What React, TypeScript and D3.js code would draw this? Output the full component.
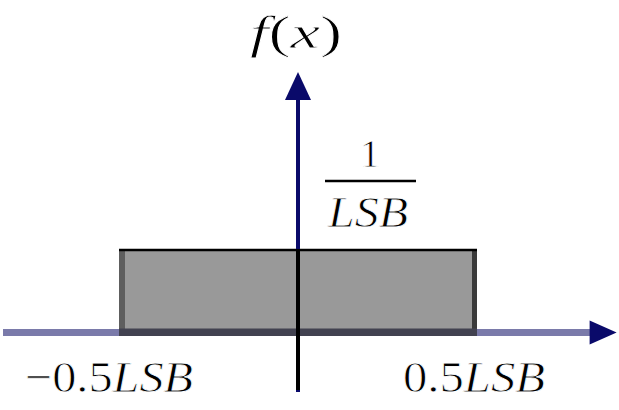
import React from "react";
import * as d3 from "d3";

// uniform quantization error pdf
const pdfEdges = [-0.5, 0.5];
const pdfHeight = 1;
const xExtent = [-0.824, 0.89];
const tickValues = [-0.5, 0.5];
const tickLabels = ["\u22120.5", "0.5"];
const tickUnit = "LSB";

const W = 619;
const H = 410;

const App = () => {
  const x = d3.scaleLinear().domain([-0.5, 0.5]).range([119, 477]);
  const y = d3.scaleLinear().domain([0, 1]).range([332.5, 249]);

  const axisCol = "#7a7aaa";
  const navy = "#0a0a6a";
  const font = "'Liberation Serif', 'DejaVu Serif', serif";
  // thin the glyphs a bit with a white outline painted over the fill
  const thin = { stroke: "#fff", strokeWidth: 0.8 };

  const x0 = x(0);
  const y0 = y(0);
  const left = x(pdfEdges[0]);
  const right = x(pdfEdges[1]);
  const top = y(pdfHeight);

  const tipX = x(xExtent[1]);
  const axisTop = 72;

  return (
    <svg
      width={W}
      height={H}
      style={{ position: "absolute", left: 0, top: 0, background: "#fff" }}
    >
      {/* horizontal axis */}
      <line x1={x(xExtent[0])} x2={tipX - 20} y1={y0} y2={y0} stroke={axisCol} strokeWidth={7} />
      <path
        d={`M${tipX},${y0} L${tipX - 27},${y0 - 12} L${tipX - 27},${y0 + 12} Z`}
        fill={navy}
      />

      {/* pdf box */}
      <rect x={left} y={top} width={right - left} height={y0 + 3.5 - top} fill="#999999" />
      <rect x={left} y={top} width={6} height={y0 + 3.5 - top} fill="#5e5e5e" />
      <rect x={right - 5} y={top} width={5} height={y0 + 3.5 - top} fill="#3a3a3a" />
      <rect x={left} y={y0 - 4} width={right - left} height={7.5} fill="#424250" />
      <line x1={left} x2={right} y1={top + 1} y2={top + 1} stroke="#000" strokeWidth={2.5} />

      {/* vertical axis */}
      <line x1={x0} x2={x0} y1={392} y2={axisTop + 20} stroke={navy} strokeWidth={4} />
      <line x1={x0} x2={x0} y1={top} y2={390} stroke="#000" strokeWidth={4} />
      <path
        d={`M${x0},${axisTop} L${x0 - 13},${axisTop + 28} L${x0 + 13},${axisTop + 28} Z`}
        fill={navy}
      />

      {/* f(x) label */}
      <text x={250} y={48} fontFamily={font} fontSize={46} fill="#000" {...thin} textLength={92} lengthAdjust="spacingAndGlyphs">
        <tspan fontStyle="italic">f</tspan>
        <tspan>(</tspan>
        <tspan fontStyle="italic">x</tspan>
        <tspan>)</tspan>
      </text>

      {/* 1 / LSB */}
      <text x={370} y={167} textAnchor="middle" fontFamily={font} fontSize={40} fill="#000" {...thin}>
        1
      </text>
      <line x1={325} x2={416} y1={181} y2={181} stroke="#000" strokeWidth={2.5} />
      <text x={328} y={227} fontFamily={font} fontStyle="italic" fontSize={44} fill="#000" {...thin} textLength={80} lengthAdjust="spacingAndGlyphs">
        LSB
      </text>

      {/* tick labels */}
      {tickValues.map((v, i) => (
        <text
          key={i}
          x={i === 0 ? 25 : 403}
          y={392}
          fontFamily={font}
          fontSize={45}
          fill="#000"
          {...thin}
          textLength={i === 0 ? 168 : 142}
          lengthAdjust="spacingAndGlyphs"
        >
          <tspan>{tickLabels[i]}</tspan>
          <tspan fontStyle="italic">{tickUnit}</tspan>
        </text>
      ))}
    </svg>
  );
};

export default App;
